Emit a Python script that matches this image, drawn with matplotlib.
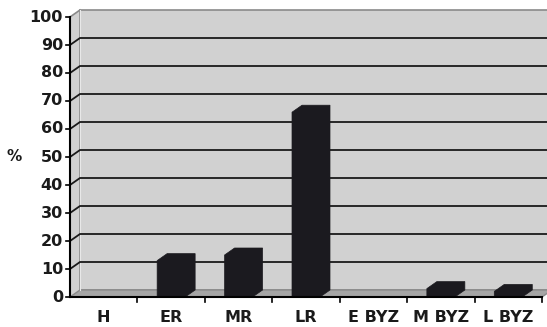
import numpy as np
import matplotlib.pyplot as plt
from matplotlib.patches import Polygon

plt.rcParams['font.family'] = ['DejaVu Sans']

categories = ['H', 'ER', 'MR', 'LR', 'E BYZ', 'M BYZ', 'L BYZ']
values = [0, 13, 15, 66, 0, 3, 2]
yticks = list(range(0, 101, 10))

W, H = 547, 327
fig = plt.figure(figsize=(W / 100, H / 100), dpi=100)
ax = fig.add_axes([70 / W, (H - 297) / H, 472 / W, 280 / H])
n = len(categories)
ax.set_xlim(0, n)
ax.set_ylim(0, 100)
ax.axis('off')

px_x = 472 / n   # pixels per category
px_y = 2.8       # pixels per percent

# depth of the 3-D box in data units (about 10 px right, 7 px up)
dx = 10 / px_x
dy = 7 / px_y

wall = '#d1d1d1'
floor = '#a5a5a5'
edge = '#8a8a8a'
ink = '#1a1a1a'

# side wall, back wall, floor
ax.add_patch(Polygon([(0, 0), (dx, dy), (dx, 100 + dy), (0, 100)], closed=True,
                     facecolor=wall, edgecolor='none', clip_on=False, zorder=1))
ax.add_patch(Polygon([(dx, dy), (n + dx, dy), (n + dx, 100 + dy), (dx, 100 + dy)],
                     closed=True, facecolor=wall, edgecolor=edge, lw=1.2,
                     clip_on=False, zorder=1))
ax.add_patch(Polygon([(0, 0), (n, 0), (n + dx, dy), (dx, dy)], closed=True,
                     facecolor=floor, edgecolor=edge, lw=1.0, clip_on=False, zorder=2))
ax.plot([0, dx], [100, 100 + dy], color=edge, lw=1.2, clip_on=False, zorder=2)
ax.plot([dx, dx], [dy, 100 + dy], color='#e8e8e8', lw=0.8, clip_on=False, zorder=2)

# gridlines on the wall
for v in yticks[1:-1]:
    ax.plot([0, dx, n + dx], [v, v + dy, v + dy], color=ink, lw=1.3,
            clip_on=False, zorder=3)

# bars as solid prisms
bw = 28 / px_x
for i, v in enumerate(values):
    if v <= 0:
        continue
    x0 = i + 0.5 - bw / 2
    x1 = x0 + bw
    pts = [(x0, 0), (x0, v), (x0 + dx, v + dy), (x1 + dx, v + dy), (x1 + dx, dy), (x1, 0)]
    ax.add_patch(Polygon(pts, closed=True, facecolor='#1b1a1f', edgecolor='#1b1a1f',
                         lw=0.5, clip_on=False, zorder=4))

# front axes
ax.plot([0, 0], [0, 100], color='black', lw=1.5, clip_on=False, zorder=5)
ax.plot([0, n], [0, 0], color='black', lw=1.5, clip_on=False, zorder=5)
for v in yticks:
    ax.plot([-4 / px_x, 0], [v, v], color='black', lw=1.2, clip_on=False, zorder=5)
    ax.text(-7 / px_x, v, str(v), ha='right', va='center', fontsize=11.5,
            fontweight='bold', color=ink)
for i in range(1, n + 1):
    ax.plot([i, i], [0, -5 / px_y], color='black', lw=1.2, clip_on=False, zorder=5)
for i, c in enumerate(categories):
    ax.text(i + 0.5, -21 / px_y, c, ha='center', va='center', fontsize=11.5,
            fontweight='bold', color=ink)

fig.text(14 / W, 1 - 157 / H, '%', ha='center', va='center', fontsize=11,
         fontweight='bold', color=ink)

fig.savefig('out.png', dpi=100, facecolor='white')
